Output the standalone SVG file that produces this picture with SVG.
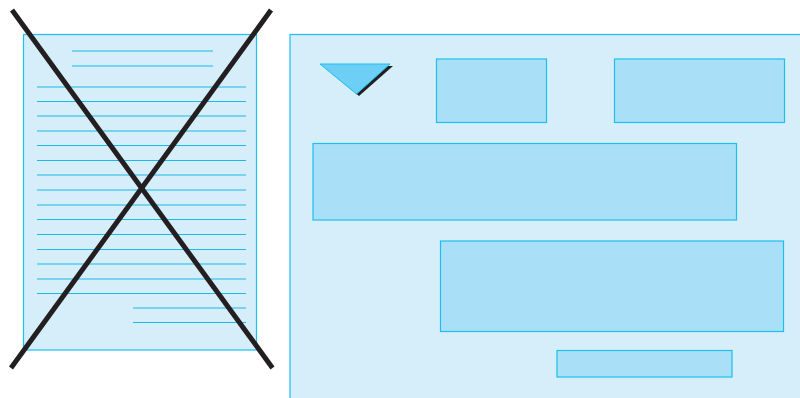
<svg xmlns="http://www.w3.org/2000/svg" width="800" height="398" viewBox="0 0 800 398">
<style>
.panel{fill:#d6edfa;stroke:#1cc0ef;stroke-width:1.2}
.box{fill:#aae0f7;stroke:#1cc0ef;stroke-width:1.2}
.ln{stroke:#1ab9ea;stroke-width:1.2}
.x{stroke:#231f20;stroke-width:5;stroke-linecap:butt}
</style>
<rect width="800" height="398" fill="#ffffff"/>
<g id="page">
<rect class="panel" x="23.5" y="34.5" width="233" height="315.5"/>
<g class="ln">
<line x1="72" y1="51" x2="213" y2="51"/>
<line x1="72" y1="66" x2="213" y2="66"/>
<line x1="37" y1="87" x2="246" y2="87"/>
<line x1="37" y1="101.5" x2="246" y2="101.5"/>
<line x1="37" y1="116" x2="246" y2="116"/>
<line x1="37" y1="131" x2="246" y2="131"/>
<line x1="37" y1="145.5" x2="246" y2="145.5"/>
<line x1="37" y1="160.5" x2="246" y2="160.5"/>
<line x1="37" y1="175" x2="246" y2="175"/>
<line x1="37" y1="190" x2="246" y2="190"/>
<line x1="37" y1="205" x2="246" y2="205"/>
<line x1="37" y1="219.5" x2="246" y2="219.5"/>
<line x1="37" y1="234.5" x2="246" y2="234.5"/>
<line x1="37" y1="249.5" x2="246" y2="249.5"/>
<line x1="37" y1="264" x2="246" y2="264"/>
<line x1="37" y1="279" x2="246" y2="279"/>
<line x1="37" y1="293.5" x2="246" y2="293.5"/>
<line x1="133" y1="308" x2="246" y2="308"/>
<line x1="133" y1="322.5" x2="246" y2="322.5"/>
</g>
<line class="x" x1="12" y1="10" x2="272.5" y2="368"/>
<line class="x" x1="271" y1="10" x2="11" y2="368"/>
</g>
<g id="layout">
<rect class="panel" x="290" y="34.5" width="515" height="370"/>
<polygon points="323,66 393,66 359,96" fill="#231f20"/>
<polygon points="320,64 390,64 356.5,94" fill="#6dcff6" stroke="#1cc0ef" stroke-width="1"/>
<rect id="b1" class="box" x="436.5" y="59" width="110" height="63.5"/>
<rect id="b2" class="box" x="614.5" y="59" width="170" height="63.5"/>
<rect id="b3" class="box" x="313" y="143.5" width="423.5" height="76.5"/>
<rect id="b4" class="box" x="440.5" y="241" width="343" height="90.5"/>
<rect id="b5" class="box" x="557" y="350.5" width="175" height="26.5"/>
</g>
</svg>
